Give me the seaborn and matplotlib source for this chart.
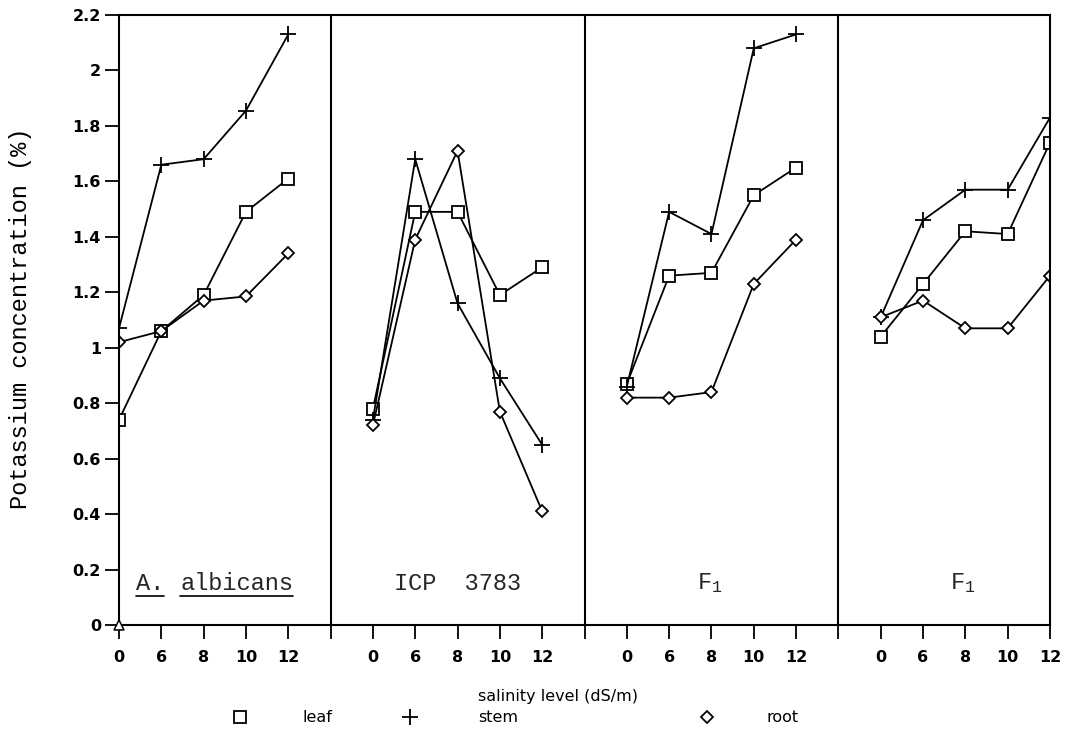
import numpy as np
import pandas as pd
import matplotlib
matplotlib.use("Agg")
import matplotlib.pyplot as plt
from matplotlib.lines import Line2D
import seaborn as sns

# ---------------- data ----------------
levels = [0, 6, 8, 10, 12]
panel_names = ["A. albicans", "ICP 3783", "F1 (a)", "F1 (b)"]
tissues = ["leaf", "stem", "root"]

leaf_albicans = [0.74, 1.06, 1.19, 1.49, 1.61]
stem_albicans = [1.07, 1.66, 1.68, 1.855, 2.13]
root_albicans = [1.02, 1.06, 1.17, 1.185, 1.34]

leaf_icp = [0.78, 1.49, 1.49, 1.19, 1.29]
stem_icp = [0.74, 1.68, 1.16, 0.89, 0.65]
root_icp = [0.72, 1.39, 1.71, 0.77, 0.41]

leaf_f1a = [0.87, 1.26, 1.27, 1.55, 1.65]
stem_f1a = [0.86, 1.49, 1.41, 2.08, 2.13]
root_f1a = [0.82, 0.82, 0.84, 1.23, 1.39]

leaf_f1b = [1.04, 1.23, 1.42, 1.41, 1.74]
stem_f1b = [1.11, 1.46, 1.57, 1.57, 1.83]
root_f1b = [1.11, 1.17, 1.07, 1.07, 1.26]

values = {
    "A. albicans": {"leaf": leaf_albicans, "stem": stem_albicans, "root": root_albicans},
    "ICP 3783": {"leaf": leaf_icp, "stem": stem_icp, "root": root_icp},
    "F1 (a)": {"leaf": leaf_f1a, "stem": stem_f1a, "root": root_f1a},
    "F1 (b)": {"leaf": leaf_f1b, "stem": stem_f1b, "root": root_f1b},
}

y_ticks = [0, 0.2, 0.4, 0.6, 0.8, 1, 1.2, 1.4, 1.6, 1.8, 2, 2.2]
y_ticklabels = ["0", "0.2", "0.4", "0.6", "0.8", "1", "1.2", "1.4", "1.6", "1.8", "2", "2.2"]

# ---------------- build long table ----------------
rows = []
for p, pname in enumerate(panel_names):
    for t in tissues:
        for i, lev in enumerate(levels):
            rows.append({"panel": pname, "tissue": t, "level": lev,
                         "pos": 6 * p + i, "value": values[pname][t][i]})
df = pd.DataFrame(rows)

# ---------------- figure ----------------
sns.set_theme(style="white")
plt.rcParams["font.family"] = ["DejaVu Sans"]
plt.rcParams["mathtext.fontset"] = "custom"
plt.rcParams["mathtext.rm"] = "Liberation Mono"
plt.rcParams["mathtext.it"] = "Liberation Mono"

fig = plt.figure(figsize=(10.79, 7.30), dpi=100)
ax = fig.add_axes([119 / 1079, 1 - 625 / 730, (1050 - 119) / 1079, (625 - 15) / 730])

marker_of = {"leaf": "s", "stem": "+", "root": "D"}
msize_of = {"leaf": 9, "stem": 12, "root": 6}
for t in tissues:
    sub = df[df["tissue"] == t]
    sns.lineplot(data=sub, x="pos", y="value", units="panel",
                 estimator=None, sort=False, color="black", linewidth=1.3,
                 marker=marker_of[t], markersize=msize_of[t],
                 mec="black", mfc="white", mew=1.3,
                 legend=False, ax=ax)

# small triangle at the origin as in reference
ax.plot([0], [0], marker="^", ms=7, mfc="white", mec="black", mew=1.1,
        clip_on=False, zorder=5)

ax.set_xlim(0, 22)
ax.set_ylim(0, 2.2)

# separators between panels
for sx in [5, 11, 17]:
    ax.axvline(sx, color="black", lw=1.5)

# ticks
xt = list(range(23))
xl = []
for k in xt:
    r = k % 6
    xl.append(str(levels[r]) if r < 5 else "")
ax.set_xticks(xt)
ax.set_xticklabels(xl)
ax.set_yticks(y_ticks)
ax.set_yticklabels(y_ticklabels)
ax.tick_params(axis="both", bottom=True, left=True, direction="out",
               length=10, width=1.3, color="black", labelsize=11.5,
               labelcolor="black")
ax.tick_params(axis="x", pad=8)
ax.tick_params(axis="y", pad=3)
for lab in ax.get_xticklabels() + ax.get_yticklabels():
    lab.set_fontweight("bold")

for s in ax.spines.values():
    s.set_visible(True)
    s.set_color("black")
    s.set_linewidth(1.5)
ax.grid(False)
ax.set_xlabel("")
ax.set_ylabel("Potassium concentration (%)", family="Liberation Mono",
              fontsize=17, color="black")
ax.yaxis.set_label_coords((32 - 119) / 931, 0.5 - (318 - 320) / 610)

# panel labels
mono = ["Liberation Mono", "DejaVu Sans Mono"]
ty = 0.15
fs = 17
tA = ax.text(0.4, ty, "A.", family=mono, fontsize=fs, ha="left", va="center")
tB = ax.text(1.45, ty, "albicans", family=mono, fontsize=fs, ha="left", va="center")
ax.text(8.0, ty, "ICP  3783", family=mono, fontsize=fs, ha="center", va="center")
ax.text(13.95, ty, r"F$_\mathrm{1}$", family=mono, fontsize=fs, ha="center", va="center")
ax.text(19.95, ty, r"F$_\mathrm{1}$", family=mono, fontsize=fs, ha="center", va="center")

fig.canvas.draw()
r = fig.canvas.get_renderer()
inv = fig.transFigure.inverted()
for t in (tA, tB):
    bb = t.get_window_extent(renderer=r)
    (x0, y0) = inv.transform((bb.x0, bb.y0 - 1))
    (x1, _) = inv.transform((bb.x1, bb.y0 - 1))
    fig.add_artist(Line2D([x0, x1], [y0, y0], transform=fig.transFigure,
                          color="black", lw=1.2))

# x label and legend
fig.text(558 / 1079, 1 - 697 / 730, "salinity level (dS/m)", ha="center",
         va="center", fontsize=11.5, color="black")

legend_marker_x = [240, 410, 707]
legend_text_x = [302, 478, 767]
legend_style = [
    dict(marker="s", ms=9, mfc="white", mec="black", mew=1.3),
    dict(marker="+", ms=12, mec="black", mew=1.3),
    dict(marker="D", ms=6, mfc="white", mec="black", mew=1.3),
]
ly = 1 - 717 / 730
for name, mx, tx, st in zip(tissues, legend_marker_x, legend_text_x, legend_style):
    fig.add_artist(Line2D([mx / 1079], [ly], transform=fig.transFigure,
                          ls="none", **st))
    fig.text(tx / 1079, ly, name, ha="left", va="center", fontsize=11.5,
             color="black")

fig.savefig("out.png", dpi=100, facecolor="white")
